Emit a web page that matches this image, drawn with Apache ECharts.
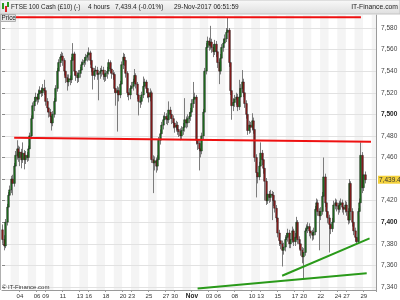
<!DOCTYPE html>
<html>
<head>
<meta charset="utf-8">
<script src="https://cdn.jsdelivr.net/npm/echarts@6/dist/echarts.min.js"></script>
<style>
html,body{margin:0;padding:0;background:#fff;}
#c{width:400px;height:300px;}
</style>
</head>
<body>
<div id="c"></div>
<script>
// ---- data (4-hour candles, [open, close, low, high]) ----
const week1 = [
[7393,7384,7380,7398],[7384,7378,7374,7388],[7378,7400,7376,7403],[7400,7414,7397,7417],[7414,7425,7411,7428],[7425,7430,7420,7434],
[7430,7440,7427,7443],[7440,7436,7425,7444],[7436,7452,7433,7455],[7452,7462,7449,7466],[7462,7468,7458,7476],[7468,7460,7456,7471],
[7460,7465,7452,7470],[7465,7458,7450,7468],[7458,7464,7455,7474],[7464,7458,7449,7467],[7458,7462,7454,7466],[7462,7460,7456,7465],
[7460,7468,7457,7471],[7468,7480,7465,7483],[7480,7496,7477,7499],[7496,7508,7493,7511],[7508,7512,7503,7516],[7512,7516,7508,7520],
[7516,7514,7509,7519],[7514,7519,7511,7523],[7519,7522,7515,7526],[7522,7520,7516,7525],[7520,7524,7517,7528],[7524,7522,7518,7532]
];
const week2 = [
[7522,7512,7508,7525],[7512,7506,7502,7515],[7506,7502,7497,7509],[7502,7498,7492,7505],[7498,7492,7485,7501],[7492,7500,7489,7503],
[7500,7512,7497,7515],[7512,7524,7509,7527],[7524,7540,7521,7543],[7540,7548,7536,7551],[7548,7553,7544,7556],[7553,7554,7548,7558],
[7554,7550,7545,7557],[7550,7540,7536,7552],[7540,7534,7529,7543],[7534,7530,7522,7537],[7530,7533,7526,7537],[7533,7532,7527,7536],
[7532,7550,7529,7553],[7550,7556,7546,7566],[7556,7540,7536,7558],[7540,7536,7531,7543],[7536,7534,7529,7539],[7534,7538,7530,7541],
[7538,7541,7534,7544],[7541,7546,7538,7549],[7546,7548,7542,7551],[7548,7550,7544,7553],[7550,7553,7546,7556],[7553,7555,7549,7558]
];
const week3 = [
[7555,7557,7550,7562],[7557,7550,7546,7559],[7550,7543,7539,7552],[7543,7536,7523,7546],[7536,7540,7532,7543],[7540,7541,7535,7545],
[7541,7537,7532,7544],[7537,7538,7513,7541],[7538,7540,7533,7543],[7540,7541,7535,7545],[7541,7537,7532,7544],[7537,7535,7530,7540],
[7535,7538,7531,7541],[7538,7540,7533,7544],[7540,7548,7537,7551],[7548,7542,7538,7550],[7542,7538,7533,7545],[7538,7537,7532,7541],
[7537,7524,7520,7539],[7524,7520,7508,7527],[7520,7522,7484,7526],[7522,7518,7512,7525],[7518,7528,7515,7531],[7528,7546,7525,7549],
[7546,7553,7542,7557],[7553,7550,7545,7556],[7550,7538,7534,7552],[7538,7520,7516,7540],[7520,7518,7513,7524],[7518,7524,7514,7527]
];
const week4 = [
[7524,7526,7520,7530],[7526,7530,7522,7533],[7530,7536,7527,7542],[7536,7528,7524,7538],[7528,7518,7514,7530],[7518,7512,7499,7521],
[7512,7512,7506,7516],[7512,7518,7509,7521],[7518,7526,7515,7535],[7526,7530,7522,7533],[7530,7524,7520,7532],[7524,7520,7515,7527],
[7520,7516,7511,7522],[7516,7520,7512,7524],[7520,7458,7455,7522],[7458,7455,7427,7462],[7455,7457,7448,7461],[7457,7452,7446,7460],
[7452,7458,7448,7462],[7458,7476,7455,7479],[7476,7482,7472,7486],[7482,7490,7478,7493],[7490,7495,7486,7499],[7495,7498,7491,7502],
[7498,7496,7491,7501],[7496,7495,7490,7499],[7495,7504,7492,7512],[7504,7500,7496,7507],[7500,7496,7491,7503],[7496,7492,7487,7499]
];
const week5 = [
[7492,7488,7483,7495],[7488,7490,7484,7494],[7490,7486,7481,7493],[7486,7484,7479,7489],[7484,7480,7476,7487],[7480,7485,7477,7489],
[7485,7488,7481,7492],[7488,7495,7484,7515],[7495,7492,7487,7498],[7492,7496,7488,7500],[7496,7498,7492,7502],[7498,7502,7494,7506],
[7502,7510,7499,7514],[7510,7514,7506,7530],[7514,7516,7510,7520],[7516,7476,7472,7518],[7476,7473,7467,7479],[7473,7468,7448,7476],
[7468,7466,7460,7472],[7466,7480,7463,7483],[7480,7502,7477,7505],[7502,7540,7499,7543],[7540,7562,7537,7566],[7562,7568,7558,7572],
[7568,7564,7559,7571],[7564,7567,7560,7582],[7567,7562,7557,7570],[7562,7558,7553,7565],[7558,7565,7555,7569],[7565,7558,7553,7568]
];
const week6 = [
[7558,7548,7543,7561],[7548,7540,7528,7551],[7540,7552,7537,7556],[7552,7562,7549,7565],[7562,7566,7558,7570],[7566,7570,7562,7574],
[7570,7576,7567,7580],[7576,7578,7570,7590],[7578,7548,7544,7580],[7548,7522,7518,7551],[7522,7508,7495,7525],[7508,7511,7503,7515],
[7511,7514,7507,7518],[7514,7516,7509,7520],[7516,7507,7503,7519],[7507,7516,7504,7532],[7516,7524,7512,7528],[7524,7530,7520,7541],
[7530,7520,7516,7533],[7520,7510,7506,7523],[7510,7500,7496,7513],[7500,7485,7481,7503],[7485,7490,7482,7494],[7490,7488,7483,7493],
[7488,7494,7485,7501],[7494,7486,7482,7497],[7486,7460,7456,7489],[7460,7446,7423,7463],[7446,7442,7436,7450],[7442,7452,7439,7456]
];
const week7 = [
[7452,7464,7448,7474],[7464,7458,7453,7467],[7458,7450,7445,7461],[7450,7438,7420,7453],[7438,7420,7416,7441],[7420,7426,7417,7430],
[7426,7423,7418,7429],[7423,7426,7419,7430],[7426,7425,7402,7429],[7425,7420,7415,7428],[7420,7413,7409,7423],[7413,7404,7400,7416],
[7404,7390,7386,7407],[7390,7383,7378,7393],[7383,7380,7375,7386],[7380,7374,7359,7383],[7374,7377,7370,7381],[7377,7384,7373,7388],
[7384,7386,7380,7390],[7386,7390,7382,7394],[7390,7380,7376,7393],[7380,7384,7376,7388],[7384,7392,7381,7396],[7392,7382,7378,7394],
[7382,7386,7378,7390],[7386,7400,7383,7405],[7400,7384,7380,7402],[7384,7380,7375,7387],[7380,7374,7369,7383],[7374,7368,7362,7377]
];
const week8 = [
[7368,7372,7348,7376],[7372,7392,7369,7395],[7392,7394,7388,7398],[7394,7396,7390,7400],[7396,7392,7387,7399],[7392,7390,7385,7395],
[7390,7388,7383,7393],[7388,7391,7384,7395],[7391,7412,7388,7415],[7412,7418,7408,7422],[7418,7410,7406,7421],[7410,7406,7374,7413],
[7406,7410,7402,7414],[7410,7424,7407,7428],[7424,7442,7420,7460],[7442,7418,7414,7445],[7418,7410,7405,7421],[7410,7404,7399,7413],
[7404,7398,7372,7407],[7398,7394,7389,7401],[7394,7400,7391,7404],[7400,7416,7397,7420],[7416,7418,7412,7422],[7418,7415,7410,7421],
[7415,7412,7407,7418],[7412,7416,7409,7420],[7416,7418,7412,7422],[7418,7414,7409,7421],[7414,7412,7407,7417],[7412,7416,7409,7420]
];
const week9 = [
[7416,7410,7406,7419],[7410,7402,7398,7413],[7402,7436,7399,7440],[7436,7410,7406,7438],[7410,7400,7396,7413],[7400,7392,7388,7403],
[7392,7386,7382,7395],[7386,7382,7380,7389],[7382,7410,7380,7413],[7410,7418,7406,7422],[7418,7462,7415,7474],[7462,7432,7427,7465],
[7432,7444,7429,7448],[7444,7439.4,7436,7447]
];

const tradingDays = [
'2017-10-02','2017-10-03','2017-10-04','2017-10-05','2017-10-06',
'2017-10-09','2017-10-10','2017-10-11','2017-10-12','2017-10-13',
'2017-10-16','2017-10-17','2017-10-18','2017-10-19','2017-10-20',
'2017-10-23','2017-10-24','2017-10-25','2017-10-26','2017-10-27',
'2017-10-30','2017-10-31','2017-11-01','2017-11-02','2017-11-03',
'2017-11-06','2017-11-07','2017-11-08','2017-11-09','2017-11-10',
'2017-11-13','2017-11-14','2017-11-15','2017-11-16','2017-11-17',
'2017-11-20','2017-11-21','2017-11-22','2017-11-23','2017-11-24',
'2017-11-27','2017-11-28','2017-11-29','2017-11-30'
];
const candleHours = ['00:00','04:00','08:00','12:00','16:00','20:00'];
const slotCount = 261;
const xLabelDays = ['2017-10-04','2017-10-06','2017-10-09','2017-10-11','2017-10-13','2017-10-16','2017-10-18','2017-10-20',
'2017-10-23','2017-10-25','2017-10-27','2017-10-30','2017-11-01','2017-11-03','2017-11-06','2017-11-08','2017-11-10',
'2017-11-13','2017-11-15','2017-11-17','2017-11-20','2017-11-22','2017-11-24','2017-11-27','2017-11-29'];
const monthLabels = {'2017-11-01':'Nov'};

const resistanceTop = [[0,7590],[250,7590]];
const resistanceMid = [[8,7478.3],[257,7474.6]];
const supportUpper = [[195,7350.4],[256,7385.1]];
const supportLower = [[136,7338.6],[254,7352.7]];
const lastPrice = 7439.4;
const headerTexts = ['FTSE 100 Cash (£10) (-)','4 hours','7,439.4 (-0.01%)','29-Nov-2017 06:51:59'];

// ---- build ----
const categories = [];
tradingDays.forEach(d => candleHours.forEach(h => categories.push(d + ' ' + h)));
categories.length = slotCount;
const candles = [].concat(week1,week2,week3,week4,week5,week6,week7,week8,week9);
const candleData = candles.map((c,i) => [i, c[0], c[1], c[2], c[3]]);

function fmtNum(v){
  const s = String(v);
  const p = s.split('.');
  p[0] = p[0].replace(/\B(?=(\d{3})+(?!\d))/g, ',');
  return p.join('.');
}
function isLabelSlot(idx, val){
  return val && val.slice(11) === '00:00' && xLabelDays.indexOf(val.slice(0,10)) >= 0;
}

function renderCandle(params, api){
  const i = api.value(0);
  const o = api.value(1), c = api.value(2), lo = api.value(3), hi = api.value(4);
  const pH = api.coord([i, hi]), pL = api.coord([i, lo]);
  const pO = api.coord([i, o]), pC = api.coord([i, c]);
  const x = Math.floor(pH[0]) + 0.5;
  const top = Math.min(pO[1], pC[1]), bot = Math.max(pO[1], pC[1]);
  const up = c >= o;
  return {type:'group', children:[
    {type:'line', shape:{x1:x, y1:pH[1], x2:x, y2:pL[1]}, style:{stroke:'#7c7c7c', lineWidth:1}},
    {type:'rect', shape:{x:x-0.9, y:top, width:1.8, height:Math.max(bot-top,1)},
     style:{fill: up ? '#1f6e1f' : '#8a1c1c', stroke:'#1a1a1a', lineWidth:0.4}}
  ]};
}

const FONT = 'Liberation Sans, Arial, sans-serif';
const chart = echarts.init(document.getElementById('c'), null, {renderer:'canvas'});
const trendSeries = (data, color, extra) => Object.assign({
  type:'line', xAxisIndex:0, yAxisIndex:0, data:data, symbol:'none', silent:true,
  lineStyle:{color:color, width:2}, z:5, animation:false
}, extra || {});

chart.setOption({
  animation:false,
  backgroundColor:'#ffffff',
  grid:[
    {left:2, right:24, top:15, bottom:10, show:false, containLabel:false, outerBoundsMode:'none'},
    {left:2, right:24, top:28, bottom:13, show:false, containLabel:false, outerBoundsMode:'none'}
  ],
  xAxis:[
    {type:'category', gridIndex:0, data:categories, boundaryGap:true, z:0,
     axisLine:{show:true, lineStyle:{color:'#9a9a9a', width:1}},
     axisTick:{show:true, interval:isLabelSlot, length:2, lineStyle:{color:'#9a9a9a'}},
     axisLabel:{show:true, interval:isLabelSlot, margin:3, fontSize:6, fontFamily:FONT, color:'#333',
       formatter:function(v){ const d = v.slice(0,10); return monthLabels[d] ? '{b|' + monthLabels[d] + '}' : d.slice(8,10); },
       rich:{b:{fontWeight:'bold', fontSize:6.5, fontFamily:FONT, color:'#222'}}},
     splitLine:{show:false},
     splitArea:{show:true, interval:5, areaStyle:{color:['#ffffff','#f4f4f4']}}
    },
    {type:'value', gridIndex:1, min:0, max:1, show:false}
  ],
  yAxis:[
    {type:'value', gridIndex:0, position:'right', min:7337.22, max:7592.05, z:3,
     axisLine:{show:true, lineStyle:{color:'#9a9a9a'}}, axisTick:{show:false},
     axisLabel:{show:true, customValues:[lastPrice], margin:2, fontSize:6.5, fontFamily:FONT, color:'#333',
       backgroundColor:'#f4d23c', padding:[1,1,0,1], formatter:function(v){ return fmtNum(v); }},
     splitLine:{show:false}},
    {type:'value', gridIndex:1, position:'right', min:7340, max:7580, interval:20, z:1,
     axisLine:{show:false}, axisTick:{show:true, length:3, lineStyle:{color:'#8a8a8a'}},
     axisLabel:{show:true, margin:5, fontSize:6.5, fontFamily:FONT, color:'#444',
       formatter:function(v){ const s = fmtNum(v); return v % 100 === 0 ? '{b|' + s + '}' : s; },
       rich:{b:{fontWeight:'bold', fontSize:6.5, fontFamily:FONT, color:'#222'}}},
     splitLine:{show:true, lineStyle:{color:'#e2e2e2', width:1}}}
  ],
  series:[
    {type:'custom', xAxisIndex:0, yAxisIndex:0, renderItem:renderCandle, data:candleData,
     encode:{x:0, y:[1,2,3,4]}, z:3, silent:true},
    trendSeries(resistanceTop, '#ee1111'),
    trendSeries(resistanceMid, '#ee1111'),
    trendSeries(supportUpper, '#2a9a1a'),
    trendSeries(supportLower, '#2a9a1a')
  ],
  graphic:[
    {type:'rect', shape:{x:0, y:0, width:400, height:14}, z:10,
     style:{fill:new echarts.graphic.LinearGradient(0,0,0,1,[{offset:0,color:'#fafafa'},{offset:1,color:'#dedede'}]), stroke:'#c4c4c4', lineWidth:1}},
    {type:'rect', shape:{x:2, y:3, width:2, height:6}, z:11, style:{fill:'#2a9a1a'}},
    {type:'rect', shape:{x:5, y:6, width:2, height:6}, z:11, style:{fill:'#dd2222'}},
    {type:'rect', shape:{x:7, y:2, width:2, height:5}, z:11, style:{fill:'#2a9a1a'}},
    {type:'text', x:11, y:7, z:11, style:{text:headerTexts[0], fontSize:6.3, fontFamily:FONT, fill:'#222', verticalAlign:'middle'}},
    {type:'text', x:88, y:7, z:11, style:{text:headerTexts[1], fontSize:6.5, fontFamily:FONT, fill:'#222', verticalAlign:'middle'}},
    {type:'text', x:115, y:7, z:11, style:{text:headerTexts[2], fontSize:6.5, fontFamily:FONT, fill:'#222', verticalAlign:'middle'}},
    {type:'text', x:174, y:7, z:11, style:{text:headerTexts[3], fontSize:6.5, fontFamily:FONT, fill:'#222', verticalAlign:'middle'}},
    {type:'text', x:398, y:7, z:11, style:{text:'IT-Finance.com', fontSize:6.8, fontFamily:FONT, fill:'#222', align:'right', verticalAlign:'middle'}},
    {type:'rect', shape:{x:0.5, y:14.5, width:15, height:7}, z:11, style:{fill:'#e4e4e4', stroke:'#b0b0b0', lineWidth:1}},
    {type:'text', x:1.5, y:18.5, z:12, style:{text:'Price', fontSize:6.3, fontFamily:FONT, fill:'#222', verticalAlign:'middle'}},
    {type:'line', shape:{x1:0.5, y1:14, x2:0.5, y2:290}, z:11, style:{stroke:'#b0b0b0', lineWidth:1}},
    {type:'text', x:2, y:287, z:11, style:{text:'© IT-Finance.com', fontSize:6, fontFamily:FONT, fill:'#333', verticalAlign:'middle'}}
  ]
});
</script>
</body>
</html>
